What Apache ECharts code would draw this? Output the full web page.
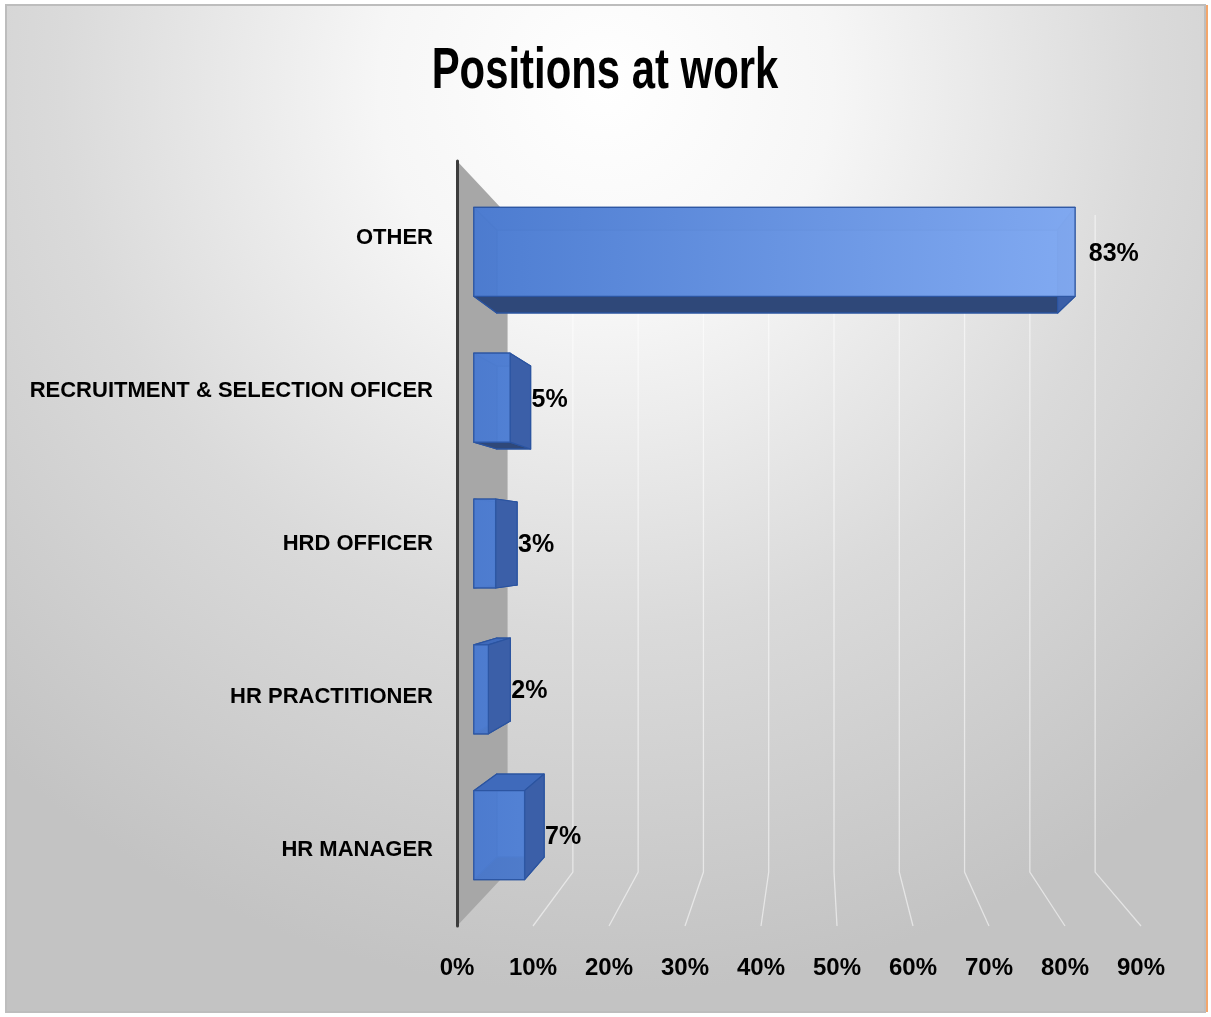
<!DOCTYPE html>
<html>
<head>
<meta charset="utf-8">
<title>Positions at work</title>
<script src="https://cdn.jsdelivr.net/npm/echarts@6/dist/echarts.min.js"></script>
<style>
  html, body { margin: 0; padding: 0; background: #ffffff; }
  #chart { width: 1211px; height: 1017px; }
</style>
</head>
<body>
<div id="chart"></div>
<script>
// Job positions held by respondents, share of answers in percent
const categories = ['OTHER', 'RECRUITMENT & SELECTION OFICER', 'HRD OFFICER', 'HR PRACTITIONER', 'HR MANAGER'];
const shares = [83, 5, 3, 2, 7];
// Percent ticks along the value axis (gridlines on the back wall and floor)
const gridTicks = [10, 20, 30, 40, 50, 60, 70, 80, 90];

const FONT = "'Liberation Sans', Arial, sans-serif";

// Simple perspective: every depth plane is a scaled copy of the front plane
// around a vanishing point given in data coordinates.
const VANISH = [47.2, 2];
const DEPTH_BAR_FRONT = 0.953;
const DEPTH_BAR_BACK = 0.889;
const DEPTH_WALL = 0.859;
const BAR_HALF = 0.305; // half bar thickness as a fraction of the category band

function projector(api) {
  const vp = api.coord(VANISH);
  return function (x, y, s) {
    return [vp[0] + (x - vp[0]) * s, vp[1] + (y - vp[1]) * s];
  };
}

// Grey side wall rising from the value-axis origin
function renderSideWall(params, api) {
  const cs = params.coordSys;
  const P = projector(api);
  const x0 = api.coord([0, 0])[0];
  const top = cs.y, bottom = cs.y + cs.height;
  return {
    type: 'polygon',
    shape: { points: [[x0, top], P(x0, top, DEPTH_WALL), P(x0, bottom, DEPTH_WALL), [x0, bottom]] },
    style: { fill: '#a7a7a7' }
  };
}

// Gridlines: vertical on the back wall, then running forward across the floor
function renderGridline(params, api) {
  const cs = params.coordSys;
  const P = projector(api);
  const x = api.coord([api.value(0), 0])[0];
  const top = cs.y, bottom = cs.y + cs.height;
  return {
    type: 'polyline',
    shape: { points: [P(x, top, DEPTH_WALL), P(x, bottom, DEPTH_WALL), [x, bottom]] },
    style: { stroke: 'rgba(255,255,255,0.55)', lineWidth: 1.3, fill: null }
  };
}

// Translucent 3D box for each bar, plus its value label
function renderBox(params, api) {
  const v = api.value(0);
  const c = api.value(1);
  const P = projector(api);
  const start = api.coord([0, c]);
  const end = api.coord([v, c]);
  const h = api.size([0, 1])[1] * BAR_HALF;
  const x0 = start[0], x1 = end[0];
  const yt = start[1] - h, yb = start[1] + h;
  const corners = [[x0, yt], [x1, yt], [x1, yb], [x0, yb]];
  const f = corners.map(p => P(p[0], p[1], DEPTH_BAR_FRONT));
  const b = corners.map(p => P(p[0], p[1], DEPTH_BAR_BACK));
  const gStart = api.coord([0, c])[0];
  const gEnd = api.coord([90, c])[0];
  const edge = { stroke: '#2b54a0', lineWidth: 1.2, lineJoin: 'round' };
  const face = (pts, fill, extra) => ({
    type: 'polygon',
    shape: { points: pts },
    style: Object.assign({ fill: fill }, edge, extra || {})
  });
  const frontFill = new echarts.graphic.LinearGradient(gStart, 0, gEnd, 0, [
    { offset: 0, color: '#4d7dd2' },
    { offset: 1, color: '#8fb6fb' }
  ], true);
  const labelX = Math.max(f[1][0], b[1][0], P(x1, start[1], 1)[0]) + 1;
  const labelY = P(x1, start[1], DEPTH_BAR_FRONT)[1] + 2;
  return {
    type: 'group',
    children: [
      face(b, '#4a78c8'),
      face([f[0], f[3], b[3], b[0]], '#3d64b0'),
      face([f[0], f[1], b[1], b[0]], '#3f6abb'),
      face([f[3], f[2], b[2], b[3]], '#2f4879'),
      face([f[1], f[2], b[2], b[1]], '#3b5fa8'),
      face(f, frontFill, { opacity: 0.88 }),
      {
        type: 'text',
        style: {
          text: api.value(0) + '%',
          x: labelX,
          y: labelY,
          align: 'left',
          verticalAlign: 'middle',
          fill: '#000000',
          font: 'bold 25px ' + FONT
        }
      }
    ]
  };
}

const chart = echarts.init(document.getElementById('chart'), null, { renderer: 'canvas' });

chart.setOption({
  backgroundColor: '#ffffff',
  animation: false,
  graphic: [
    {
      type: 'rect',
      z: -10,
      silent: true,
      shape: { x: 6, y: 5, width: 1199, height: 1007 },
      style: {
        fill: new echarts.graphic.RadialGradient(0.5, 0.08, 0.9, [
          { offset: 0, color: '#ffffff' },
          { offset: 0.25, color: '#f6f6f6' },
          { offset: 0.6, color: '#dadada' },
          { offset: 1, color: '#c3c3c3' }
        ]),
        stroke: '#bdbdbd',
        lineWidth: 2
      }
    },
    {
      type: 'line',
      z: -9,
      silent: true,
      shape: { x1: 1207, y1: 5, x2: 1207, y2: 1012 },
      style: { stroke: '#f3a66b', lineWidth: 2 }
    },
    {
      // chart title, horizontally condensed
      type: 'text',
      z: 10,
      x: 605,
      y: 72,
      scaleX: 0.79,
      scaleY: 1.1,
      style: {
        text: 'Positions at work',
        align: 'center',
        verticalAlign: 'middle',
        fill: '#000000',
        font: 'bold 53px ' + FONT
      }
    }
  ],
  grid: { left: 457, right: 70, top: 161, bottom: 91, outerBoundsMode: 'none', containLabel: false },
  xAxis: {
    type: 'value',
    min: 0,
    max: 90,
    interval: 10,
    axisLine: { show: false },
    axisTick: { show: false },
    splitLine: { show: false },
    axisLabel: {
      formatter: '{value}%',
      margin: 30,
      fontFamily: FONT,
      fontSize: 24,
      fontWeight: 'bold',
      color: '#000000'
    }
  },
  yAxis: {
    type: 'category',
    data: categories,
    inverse: true,
    z: 4,
    axisTick: { show: false },
    axisLine: { show: true, lineStyle: { color: '#3c3c3c', width: 3 } },
    axisLabel: {
      margin: 24,
      fontFamily: FONT,
      fontSize: 22,
      fontWeight: 'bold',
      color: '#000000'
    }
  },
  series: [
    {
      type: 'custom',
      name: 'wall',
      z: 1,
      silent: true,
      renderItem: renderSideWall,
      data: [[0, 0]]
    },
    {
      type: 'custom',
      name: 'gridlines',
      z: 1,
      silent: true,
      renderItem: renderGridline,
      data: gridTicks.map(t => [t, 0])
    },
    {
      type: 'custom',
      name: 'Positions',
      z: 3,
      renderItem: renderBox,
      encode: { x: 0, y: 1 },
      data: shares.map((v, i) => [v, categories[i]])
    }
  ]
});
</script>
</body>
</html>
